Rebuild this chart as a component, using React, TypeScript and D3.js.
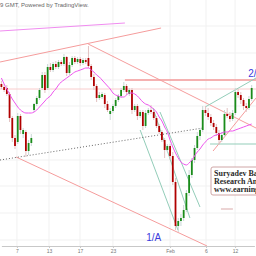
import React, { useEffect, useRef } from "react";
import * as d3 from "d3";

// OHLC per candle (index 0..92)
const opens = [
  1616, 1613, 1612, 1606, 1582, 1562, 1558, 1584, 1566, 1568,
  1549, 1557, 1590, 1596, 1602, 1612, 1625, 1612, 1633, 1630,
  1636, 1633, 1638, 1636, 1643, 1627, 1635, 1642, 1638, 1641,
  1637, 1640, 1642, 1634, 1623, 1614, 1602, 1603, 1605, 1596,
  1586, 1589, 1594, 1600, 1604, 1610, 1614, 1606, 1610, 1590,
  1594, 1584, 1588, 1574, 1587, 1590, 1588, 1582, 1574, 1568,
  1560, 1550, 1554, 1544, 1518, 1474, 1479, 1482, 1490, 1507,
  1525, 1540, 1552, 1564, 1570, 1590, 1587, 1583, 1577, 1573,
  1567, 1560, 1565, 1586, 1584, 1581, 1587, 1608, 1605, 1600,
  1594, 1592, 1601,
];
const highs = [
  1619, 1616, 1615, 1608, 1584, 1565, 1587, 1586, 1572, 1570,
  1560, 1566, 1597, 1604, 1612, 1628, 1628, 1636, 1637, 1638,
  1639, 1640, 1640, 1646, 1644, 1638, 1644, 1644, 1643, 1643,
  1642, 1642, 1654, 1636, 1626, 1616, 1608, 1608, 1607, 1599,
  1592, 1596, 1602, 1606, 1612, 1618, 1616, 1612, 1612, 1596,
  1596, 1590, 1590, 1590, 1592, 1595, 1590, 1584, 1576, 1570,
  1562, 1556, 1556, 1548, 1522, 1482, 1486, 1495, 1510, 1530,
  1542, 1555, 1568, 1572, 1594, 1594, 1592, 1586, 1580, 1576,
  1570, 1568, 1590, 1592, 1588, 1590, 1612, 1611, 1608, 1602,
  1597, 1604, 1615,
];
const lows = [
  1611, 1608, 1604, 1578, 1558, 1551, 1556, 1566, 1562, 1543,
  1545, 1554, 1588, 1594, 1600, 1610, 1607, 1610, 1628, 1628,
  1631, 1631, 1634, 1634, 1624, 1625, 1633, 1636, 1636, 1634,
  1635, 1636, 1632, 1620, 1610, 1598, 1600, 1601, 1592, 1588,
  1580, 1587, 1592, 1598, 1602, 1608, 1605, 1604, 1586, 1588,
  1580, 1582, 1570, 1572, 1585, 1586, 1580, 1572, 1566, 1558,
  1542, 1548, 1540, 1515, 1470, 1468, 1474, 1479, 1488, 1504,
  1522, 1537, 1550, 1560, 1568, 1584, 1580, 1574, 1570, 1564,
  1555, 1558, 1563, 1582, 1578, 1579, 1585, 1602, 1596, 1590,
  1588, 1590, 1599,
];
const closes = [
  1613, 1610, 1606, 1582, 1562, 1554, 1584, 1570, 1570, 1549,
  1557, 1562, 1596, 1602, 1610, 1625, 1610, 1633, 1630, 1636,
  1633, 1638, 1636, 1643, 1627, 1635, 1642, 1638, 1641, 1637,
  1640, 1638, 1634, 1623, 1614, 1602, 1605, 1606, 1596, 1590,
  1589, 1594, 1600, 1604, 1610, 1614, 1608, 1610, 1590, 1594,
  1584, 1588, 1574, 1587, 1590, 1588, 1582, 1574, 1568, 1560,
  1550, 1554, 1544, 1518, 1474, 1479, 1482, 1490, 1507, 1525,
  1540, 1552, 1564, 1570, 1590, 1587, 1583, 1577, 1573, 1567,
  1560, 1565, 1586, 1584, 1581, 1587, 1608, 1605, 1600, 1594,
  1592, 1601, 1612,
];
// moving average
const maValues = [
  1622, 1616, 1611, 1606, 1601, 1597, 1593, 1590, 1588, 1587,
  1587, 1587, 1588, 1590, 1593, 1596, 1599, 1602, 1604, 1608,
  1611, 1615, 1618, 1620, 1622, 1624, 1626, 1628, 1629, 1630,
  1631, 1632, 1632, 1630, 1628, 1625, 1623, 1620, 1617, 1614,
  1611, 1607, 1605, 1604, 1603, 1603, 1605, 1607, 1607, 1606,
  1604, 1601, 1598, 1596, 1595, 1593, 1591, 1588, 1583, 1579,
  1573, 1568, 1560, 1553, 1547, 1542, 1538, 1536, 1535, 1537,
  1540, 1544, 1548, 1551, 1555, 1558, 1561, 1562, 1564, 1565,
  1566, 1567, 1568, 1568, 1569, 1569, 1570, 1571, 1572, 1573,
  1574, 1575, 1576,
];

const tickIdx = [5.7, 17.5, 28.9, 41, 62, 75.2, 85.9];
const tickLabels = ["7", "13", "17", "23", "Feb", "6", "12"];
const gridPrices = [1460, 1487, 1514, 1540, 1567, 1594, 1620, 1647, 1674];

// trendlines: [index1, price1, index2, price2]
const salmonLines = [
  [-0.5, 1638, 58.7, 1672],
  [31.9, 1656, 93.6, 1572],
  [5.4, 1543, 75.6, 1454],
  [77.8, 1549, 93.6, 1602],
];
const tealLines = [
  [51.0, 1570, 64.9, 1470],
  [55.7, 1592, 69.3, 1482],
  [58.3, 1588, 73.0, 1493],
  [74.9, 1593, 93.6, 1622],
  [76.7, 1556, 93.6, 1556],
];
const dottedLine = [-0.5, 1540, 74.1, 1572];
const magentaLine = [-0.5, 1669, 45.4, 1677];
const strongLevel = [45.4, 93.6, 1620];
const faintLevel = 1611;
const shortMark = [80.7, 1491, 85.1, 1491];
const waveLabels = [
  { text: "1/A", idx: 53.2, price: 1459 },
  { text: "2/B", idx: 90.7, price: 1623 },
];
const boxLines = ["Suryadev Barua", "Research Analyst", "www.earningwaves.com"];

const App: React.FC = () => {
  const svgRef = useRef<SVGSVGElement | null>(null);

  useEffect(() => {
    if (!svgRef.current) return;
    const width = 256;
    const height = 256;
    const plotBottom = 246;

    const svg = d3.select(svgRef.current);
    svg.selectAll("*").remove();
    svg.attr("width", width).attr("height", height);

    const x = d3.scaleLinear().domain([0, 93]).range([1.4, 254.4]);
    const y = d3.scaleLinear().domain([1454, 1700]).range([plotBottom, 0]);

    svg.append("rect").attr("width", width).attr("height", height).attr("fill", "#fff");
    svg.append("defs").append("clipPath").attr("id", "plotClip")
      .append("rect").attr("width", width).attr("height", plotBottom);

    const plot = svg.append("g").attr("clip-path", "url(#plotClip)");

    // grid
    plot.selectAll(".hgrid").data(gridPrices).enter().append("line")
      .attr("x1", 0).attr("x2", width)
      .attr("y1", d => y(d)).attr("y2", d => y(d))
      .attr("stroke", "#f1f1f1");
    plot.selectAll(".vgrid").data(tickIdx).enter().append("line")
      .attr("x1", d => x(d)).attr("x2", d => x(d))
      .attr("y1", 0).attr("y2", plotBottom)
      .attr("stroke", "#f1f1f1");

    const seg = (arr: number[][] | number[], color: string, w: number, dash?: string) => {
      const rows = (Array.isArray(arr[0]) ? arr : [arr]) as number[][];
      plot.append("g").selectAll("line").data(rows).enter().append("line")
        .attr("x1", d => x(d[0])).attr("y1", d => y(d[1]))
        .attr("x2", d => x(d[2])).attr("y2", d => y(d[3]))
        .attr("stroke", color).attr("stroke-width", w)
        .attr("stroke-dasharray", dash || null);
    };

    // levels
    plot.append("line")
      .attr("x1", 0).attr("x2", width)
      .attr("y1", y(faintLevel)).attr("y2", y(faintLevel))
      .attr("stroke", "#f9cccc").attr("stroke-width", 1);
    plot.append("line")
      .attr("x1", x(strongLevel[0])).attr("x2", x(strongLevel[1]))
      .attr("y1", y(strongLevel[2])).attr("y2", y(strongLevel[2]))
      .attr("stroke", "#f59a9a").attr("stroke-width", 1.5);

    seg(salmonLines, "#f59c9c", 1);
    seg(tealLines, "#93cdb9", 1);
    seg(dottedLine, "#666", 1, "1,2");
    seg(magentaLine, "#f08cf0", 1);
    seg(shortMark, "#d9a9a9", 1);

    // candles
    const idx = d3.range(closes.length);
    const up = (i: number) => closes[i] >= opens[i];
    plot.append("g").selectAll("line").data(idx).enter().append("line")
      .attr("x1", i => x(i)).attr("x2", i => x(i))
      .attr("y1", i => y(highs[i])).attr("y2", i => y(lows[i]))
      .attr("stroke", i => (up(i) ? "#c9d6d6" : "#e2c2c2"))
      .attr("stroke-width", 1);
    plot.append("g").selectAll("rect").data(idx).enter().append("rect")
      .attr("x", i => x(i) - 0.9)
      .attr("width", 1.8)
      .attr("y", i => y(Math.max(opens[i], closes[i])))
      .attr("height", i => Math.max(1, Math.abs(y(opens[i]) - y(closes[i]))))
      .attr("fill", i => (up(i) ? "#1a8c1a" : "#b00000"));

    // moving average
    const maLine = d3.line<number>()
      .x((_, i) => x(i))
      .y(d => y(d))
      .curve(d3.curveMonotoneX);
    plot.append("path").datum(maValues)
      .attr("d", maLine)
      .attr("fill", "none")
      .attr("stroke", "#ee55ee")
      .attr("stroke-width", 1);

    // wave labels
    plot.selectAll(".wave").data(waveLabels).enter().append("text")
      .attr("x", d => x(d.idx)).attr("y", d => y(d.price))
      .attr("font-family", "Liberation Sans, Arial, sans-serif")
      .attr("font-size", 10)
      .attr("fill", "#3b3bdc")
      .text(d => d.text);

    // text box
    const box = plot.append("g");
    box.append("rect")
      .attr("x", 211).attr("y", 167).attr("width", 70).attr("height", 28)
      .attr("rx", 2).attr("fill", "#fff")
      .attr("stroke", "#cfa6a6").attr("stroke-width", 1);
    box.selectAll("text").data(boxLines).enter().append("text")
      .attr("x", 214).attr("y", (_, i) => 176 + i * 8)
      .attr("font-family", "Liberation Serif, Times New Roman, serif")
      .attr("font-weight", "bold")
      .attr("font-size", 8)
      .attr("fill", "#2a2a2a")
      .text(d => d);

    // x axis
    const axis = d3.axisBottom(x)
      .tickValues(tickIdx)
      .tickFormat((_, i) => tickLabels[i])
      .tickSize(2)
      .tickSizeOuter(0)
      .tickPadding(1);
    const gAxis = svg.append("g")
      .attr("transform", `translate(0,${plotBottom})`)
      .call(axis);
    gAxis.select(".domain").attr("stroke", "#c8c8c8");
    gAxis.selectAll(".tick line").attr("stroke", "#c8c8c8");
    gAxis.selectAll("text")
      .attr("font-size", 5)
      .attr("font-family", "Liberation Sans, Arial, sans-serif")
      .attr("fill", "#777");

    // header
    svg.append("text")
      .attr("x", 0).attr("y", 7)
      .attr("font-family", "Liberation Sans, Arial, sans-serif")
      .attr("font-size", 6)
      .attr("fill", "#666")
      .text("9 GMT, Powered by TradingView.");
  }, []);

  return <svg ref={svgRef} style={{ position: "absolute", left: 0, top: 0 }} />;
};

export default App;
